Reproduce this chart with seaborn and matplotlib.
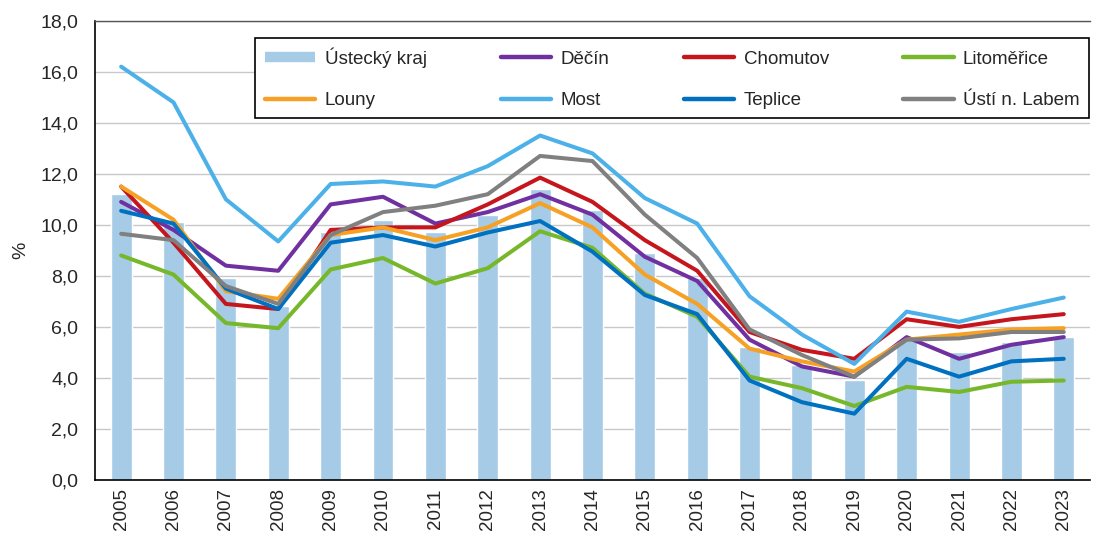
import numpy as np
import pandas as pd
import seaborn as sns
import matplotlib.pyplot as plt
from matplotlib.lines import Line2D
from matplotlib.ticker import FixedLocator, FuncFormatter

years = [str(y) for y in range(2005, 2024)]

# Ústecký kraj (bars)
kraj = [11.2, 10.1, 7.9, 6.8, 9.7, 10.2, 9.7, 10.4, 11.4, 10.6, 8.9, 7.9,
        5.2, 4.5, 3.9, 5.5, 5.0, 5.4, 5.6]

decin = [10.9, 9.8, 8.4, 8.2, 10.8, 11.1, 10.05, 10.5, 11.2, 10.4, 8.75, 7.8,
         5.5, 4.45, 4.05, 5.6, 4.75, 5.3, 5.6]
chomutov = [11.5, 9.3, 6.9, 6.7, 9.8, 9.9, 9.9, 10.8, 11.85, 10.9, 9.4, 8.2,
            5.8, 5.1, 4.75, 6.3, 6.0, 6.3, 6.5]
litomerice = [8.8, 8.05, 6.15, 5.95, 8.25, 8.7, 7.7, 8.3, 9.75, 9.1, 7.3, 6.4,
              4.05, 3.6, 2.9, 3.65, 3.45, 3.85, 3.9]
louny = [11.5, 10.2, 7.4, 7.1, 9.6, 9.9, 9.4, 9.9, 10.85, 9.9, 8.05, 6.9,
         5.15, 4.65, 4.25, 5.5, 5.7, 5.9, 5.95]
most = [16.2, 14.8, 11.0, 9.35, 11.6, 11.7, 11.5, 12.3, 13.5, 12.8, 11.05, 10.05,
        7.2, 5.7, 4.55, 6.6, 6.2, 6.7, 7.15]
teplice = [10.55, 10.05, 7.5, 6.7, 9.3, 9.6, 9.15, 9.7, 10.15, 8.95, 7.25, 6.5,
           3.9, 3.05, 2.6, 4.75, 4.05, 4.65, 4.75]
usti = [9.65, 9.4, 7.6, 6.9, 9.6, 10.5, 10.75, 11.2, 12.7, 12.5, 10.4, 8.7,
        5.9, 4.9, 4.05, 5.5, 5.55, 5.8, 5.8]

okresy = ["Děčín", "Chomutov", "Litoměřice", "Louny", "Most", "Teplice", "Ústí n. Labem"]
series = [decin, chomutov, litomerice, louny, most, teplice, usti]
colors = {
    "Děčín": "#7030A0",
    "Chomutov": "#C5161D",
    "Litoměřice": "#77B82A",
    "Louny": "#F7A124",
    "Most": "#4BB1E8",
    "Teplice": "#0070C0",
    "Ústí n. Labem": "#808080",
}
bar_color = "#A6CBE6"

pos = np.arange(len(years))
bars_df = pd.DataFrame({"pos": pos, "rok": years, "hodnota": kraj})
lines_df = pd.concat(
    [pd.DataFrame({"pos": pos, "hodnota": vals, "okres": name})
     for name, vals in zip(okresy, series)],
    ignore_index=True,
)

sns.set_style("white")
plt.rcParams['font.family'] = ['Liberation Sans', 'DejaVu Sans']

fig = plt.figure(figsize=(10.94, 5.35), dpi=100)
ax = fig.add_axes([0.0868, 0.1028, 0.9095, 0.8585])

ax.set_axisbelow(True)
ax.yaxis.grid(True, color="#C8C8C8", linewidth=1.0)

sns.barplot(data=bars_df, x="rok", y="hodnota", color=bar_color, width=0.4,
            saturation=1, ax=ax, zorder=2)
sns.lineplot(data=lines_df, x="pos", y="hodnota", hue="okres", hue_order=okresy,
             palette=colors, linewidth=2.9, ax=ax, legend=False, zorder=3)
for ln in ax.lines:
    ln.set_solid_joinstyle("round")

ax.set_xlim(-0.5, len(years) - 0.5)
ax.set_ylim(0, 18)
ax.set_yticks(np.arange(0, 18.1, 2))
ax.yaxis.set_major_formatter(FuncFormatter(lambda v, p: f"{v:.1f}".replace(".", ",")))
ax.set_xticks(pos)
ax.set_xticklabels(years, rotation=90, fontsize=13.5)
ax.xaxis.set_minor_locator(FixedLocator(np.arange(-0.5, len(years), 1)))
ax.tick_params(axis="x", which="major", length=0, pad=6)
ax.tick_params(axis="x", which="minor", length=4, width=1.2, color="black", direction="out")
ax.tick_params(axis="y", length=5, width=1.2, color="black", direction="out",
               labelsize=14, pad=7)
ax.set_xlabel("")
ax.set_ylabel("%", fontsize=14, labelpad=8)

for s in ["left", "bottom"]:
    ax.spines[s].set_color("black")
    ax.spines[s].set_linewidth(1.2)
ax.spines["top"].set_color("#555555")
ax.spines["top"].set_linewidth(1.0)
ax.spines["right"].set_visible(False)

# legend: 4 columns, column-wise filling
h_bar = Line2D([0], [0], color=bar_color, linewidth=7.5, solid_capstyle="butt")
h = {name: Line2D([0], [0], color=colors[name], linewidth=3.2, solid_capstyle="round")
     for name in okresy}
handles = [h_bar, h["Louny"], h["Děčín"], h["Most"], h["Chomutov"], h["Teplice"],
           h["Litoměřice"], h["Ústí n. Labem"]]
labels = ["Ústecký kraj", "Louny", "Děčín", "Most", "Chomutov", "Teplice",
          "Litoměřice", "Ústí n. Labem"]
leg = ax.legend(handles, labels, ncol=4, loc="upper left", mode="expand",
                bbox_to_anchor=(0.161, 0.963, 0.838, 0.0), borderaxespad=0,
                fontsize=13.5, frameon=True, fancybox=False, edgecolor="black",
                handlelength=2.7, handletextpad=0.5, labelspacing=1.3,
                borderpad=0.5, framealpha=1)
leg.get_frame().set_linewidth(1.2)

fig.savefig("out.png", dpi=100)
